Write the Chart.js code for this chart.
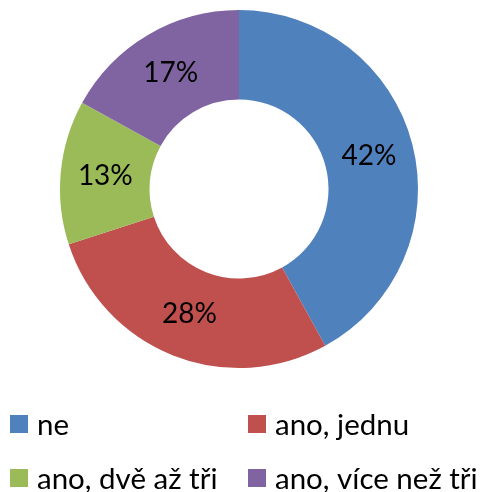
<!DOCTYPE html>
<html>
<head>
<meta charset="utf-8">
<script src="https://cdn.jsdelivr.net/npm/chart.js@4"></script>
<style>
  html, body { margin: 0; padding: 0; background: #fff; }
  canvas { display: block; }
</style>
</head>
<body>
<canvas id="myChart" width="483" height="492"></canvas>
<script>
// answers and their shares in percent
const categories = ['ne', 'ano, jednu', 'ano, dvě až tři', 'ano, více než tři'];
const shares = [42, 28, 13, 17];
const colors = ['#4F81BD', '#C0504D', '#9BBB59', '#8064A2'];

const FONT = 'Lato, "Open Sans", sans-serif';

// percent labels in the middle of every ring segment
const sliceLabels = {
  id: 'sliceLabels',
  afterDatasetsDraw(chart) {
    const ctx = chart.ctx;
    const meta = chart.getDatasetMeta(0);
    ctx.save();
    ctx.font = '28px ' + FONT;
    ctx.fillStyle = '#000';
    ctx.textAlign = 'center';
    ctx.textBaseline = 'middle';
    meta.data.forEach((arc, i) => {
      const p = arc.tooltipPosition();
      ctx.fillText(shares[i] + '%', p.x, p.y);
    });
    ctx.restore();
  }
};

// two-column legend under the ring
const gridLegend = {
  id: 'gridLegend',
  afterDraw(chart) {
    const ctx = chart.ctx;
    const colX = [10, 248];
    const rowY = [424, 478];
    const box = 18;
    ctx.save();
    ctx.font = '29.5px ' + FONT;
    ctx.textBaseline = 'middle';
    ctx.textAlign = 'left';
    categories.forEach((label, i) => {
      const x = colX[i % 2];
      const y = rowY[Math.floor(i / 2)];
      ctx.fillStyle = colors[i];
      ctx.fillRect(x, y - box / 2, box, box);
      ctx.fillStyle = '#000';
      ctx.fillText(label, x + box + 9, y + 1);
    });
    ctx.restore();
  }
};

var ctx = document.getElementById('myChart').getContext('2d');

window.myChart = new Chart(ctx, {
  type: 'doughnut',
  data: {
    labels: categories,
    datasets: [{
      data: shares,
      backgroundColor: colors,
      borderWidth: 0,
      hoverOffset: 0
    }]
  },
  options: {
    responsive: false,
    animation: false,
    devicePixelRatio: 1,
    cutout: '50%',
    events: [],
    layout: {
      padding: { top: 10, bottom: 124, left: 0, right: 5 }
    },
    plugins: {
      legend: { display: false },
      tooltip: { enabled: false }
    }
  },
  plugins: [sliceLabels, gridLegend]
});
</script>
</body>
</html>
